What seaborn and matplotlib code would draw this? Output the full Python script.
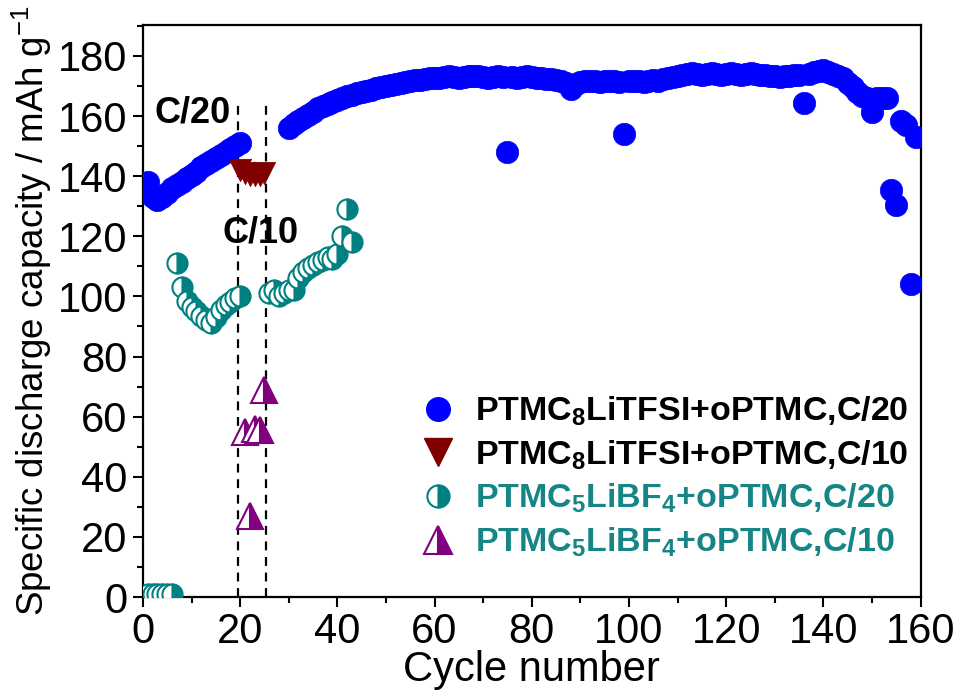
import matplotlib
matplotlib.use("Agg")
import matplotlib.pyplot as plt
from matplotlib.lines import Line2D
from matplotlib.ticker import MultipleLocator
import seaborn as sns
import pandas as pd

# ---------------- data ----------------
blue_cycles = list(range(1, 21)) + list(range(30, 160))
blue_vals = [138, 133, 132, 133, 134.5, 136, 137, 138, 139.5, 140.5,
             141.5, 143, 144, 145, 146, 147, 148, 149, 150, 151,
             # 30-60
             156, 157.5, 158.5, 159.5, 160.5, 161.5, 162.5, 163.3, 164, 164.7,
             165.3, 166, 166.5, 167, 167.5, 168, 168.4, 168.8, 169.2, 169.6,
             170, 170.4, 170.7, 171, 171.3, 171.6, 171.9, 172.1, 172.3, 172.5, 172.7,
             # 61-90
             172.8, 173, 173.2, 173, 172.8, 173, 173.2, 173.4, 173.2, 173,
             172.8, 173, 173.2, 173, 148, 173, 172.8, 173, 173.2, 173,
             172.8, 172.6, 172.4, 172.2, 172, 171.8, 171, 169, 170.5, 171.2,
             # 91-110
             171.5, 171.8, 171.5, 171.2, 171.5, 171.8, 171.5, 171.3, 154, 171.5,
             171.8, 171.5, 171.2, 171.6, 172, 171.8, 172.2, 172.6, 173, 173.4,
             # 111-143
             173.8, 174, 174.2, 174, 173.8, 174, 174.2, 174, 173.8, 174,
             174.2, 174, 173.8, 174, 174.2, 174, 173.8, 173.6, 173.4, 173.2,
             173, 173.2, 173.4, 173.6, 173.8, 164.3, 174, 174.5, 175, 175.2,
             174.6, 174, 173.2,
             # 144-159
             172.5, 171, 169.5, 168, 166.5, 166, 161.5, 166, 166, 166,
             135.5, 130.5, 158.5, 157, 104, 153]

red_cycles = [20, 21, 22, 23, 24, 25]
red_vals = [142, 141, 140.5, 140.5, 140.5, 141]

teal_cycles = list(range(1, 21)) + list(range(26, 44))
teal_vals = [1, 1, 1, 1, 1, 1,
             111, 103, 98.5, 96.5, 95, 93.5, 92, 91, 93, 95.5, 97, 98, 99.5, 100,
             101, 102, 100, 101, 102, 102, 106, 108, 109.5, 110.5,
             111.5, 112, 113, 112.5, 114, 120, 129, 118]

purple_cycles = [21, 22, 23, 24, 25]
purple_vals = [55, 27, 56, 55.5, 69]

labels = [r"PTMC$_8$LiTFSI+oPTMC,C/20",
          r"PTMC$_8$LiTFSI+oPTMC,C/10",
          r"PTMC$_5$LiBF$_4$+oPTMC,C/20",
          r"PTMC$_5$LiBF$_4$+oPTMC,C/10"]
rate_change_cycles = [19.6, 25.4]
rate_labels = ["C/20", "C/10"]
rate_label_pos = [(10.3, 161), (24.3, 121)]

# ---------------- style ----------------
sns.set_theme(style="ticks")
plt.rcParams["font.family"] = ["Liberation Sans", "DejaVu Sans"]
plt.rcParams["mathtext.default"] = "regular"
plt.rcParams["axes.edgecolor"] = "black"
plt.rcParams["text.color"] = "black"
plt.rcParams["xtick.color"] = "black"
plt.rcParams["ytick.color"] = "black"
plt.rcParams["axes.labelcolor"] = "black"

BLUE = "#0000FF"
RED = "#800000"
TEAL = "#008080"
PURPLE = "#800080"
TEAL_TEXT = "#158585"

fig = plt.figure(figsize=(9.59, 6.96), dpi=100)
ax = fig.add_axes([0.149, 0.1422, 0.811, 0.822])

df_blue = pd.DataFrame({"cycle": blue_cycles, "cap": blue_vals})
df_red = pd.DataFrame({"cycle": red_cycles, "cap": red_vals})
df_teal = pd.DataFrame({"cycle": teal_cycles, "cap": teal_vals})
df_purple = pd.DataFrame({"cycle": purple_cycles, "cap": purple_vals})

sns.scatterplot(data=df_blue, x="cycle", y="cap", ax=ax, marker="o", s=260,
                color=BLUE, edgecolor=BLUE, linewidth=0.5, zorder=3, legend=False)
sns.scatterplot(data=df_red, x="cycle", y="cap", ax=ax, marker="v", s=260,
                color=RED, edgecolor=RED, linewidth=0.5, zorder=4, legend=False)
sns.lineplot(data=df_teal, x="cycle", y="cap", ax=ax, marker="o", linestyle="",
             markersize=14.5, fillstyle="right", color=TEAL, markerfacecolor=TEAL,
             markerfacecoloralt="white", markeredgecolor=TEAL, markeredgewidth=1.5,
             estimator=None, errorbar=None, sort=False, zorder=5, legend=False)
sns.lineplot(data=df_purple, x="cycle", y="cap", ax=ax, marker="^", linestyle="",
             markersize=19, fillstyle="right", color=PURPLE, markerfacecolor=PURPLE,
             markerfacecoloralt="white", markeredgecolor=PURPLE, markeredgewidth=1.5,
             estimator=None, errorbar=None, sort=False, zorder=6, legend=False)

for xc in rate_change_cycles:
    ax.vlines(xc, 0, 165, colors="black", linestyles=(0, (4, 3)), linewidth=1.6, zorder=2)

for txt, (xp, yp) in zip(rate_labels, rate_label_pos):
    ax.text(xp, yp, txt, fontsize=26, fontweight="bold", ha="center", va="center", zorder=7)

ax.set_xlim(0, 160)
ax.set_ylim(0, 190.3)
ax.xaxis.set_major_locator(MultipleLocator(20))
ax.xaxis.set_minor_locator(MultipleLocator(10))
ax.yaxis.set_major_locator(MultipleLocator(20))
ax.yaxis.set_minor_locator(MultipleLocator(10))
ax.set_yticks(range(0, 181, 20))
ax.tick_params(which="major", direction="out", length=7, width=1.5, labelsize=30, pad=4,
               top=False, right=False)
ax.tick_params(which="minor", direction="out", length=4, width=1.5, top=False, right=False)
for sp in ax.spines.values():
    sp.set_linewidth(1.6)
    sp.set_color("black")

ax.set_xlabel("Cycle number", fontsize=30, labelpad=-2)
ax.set_ylabel(r"Specific discharge capacity / mAh g$^{-1}$", fontsize=26.5, labelpad=3)

handles = [
    Line2D([], [], ls="", marker="o", ms=17, mfc=BLUE, mec=BLUE),
    Line2D([], [], ls="", marker="v", ms=20, mfc=RED, mec=RED),
    Line2D([], [], ls="", marker="o", ms=16, fillstyle="right", mfc=TEAL,
           mfcalt="white", mec=TEAL, mew=1.5),
    Line2D([], [], ls="", marker="^", ms=20, fillstyle="right", mfc=PURPLE,
           mfcalt="white", mec=PURPLE, mew=1.5),
]
leg = ax.legend(handles, labels, loc="center left", bbox_to_anchor=(0.357, 0.21),
                frameon=False, borderpad=0, borderaxespad=0, handlelength=1.0,
                handletextpad=0.6, labelspacing=0.3,
                prop={"weight": "bold", "size": 24.5})
for t, c in zip(leg.get_texts(), ["black", "black", TEAL_TEXT, TEAL_TEXT]):
    t.set_color(c)

fig.savefig("out.png", dpi=100)
